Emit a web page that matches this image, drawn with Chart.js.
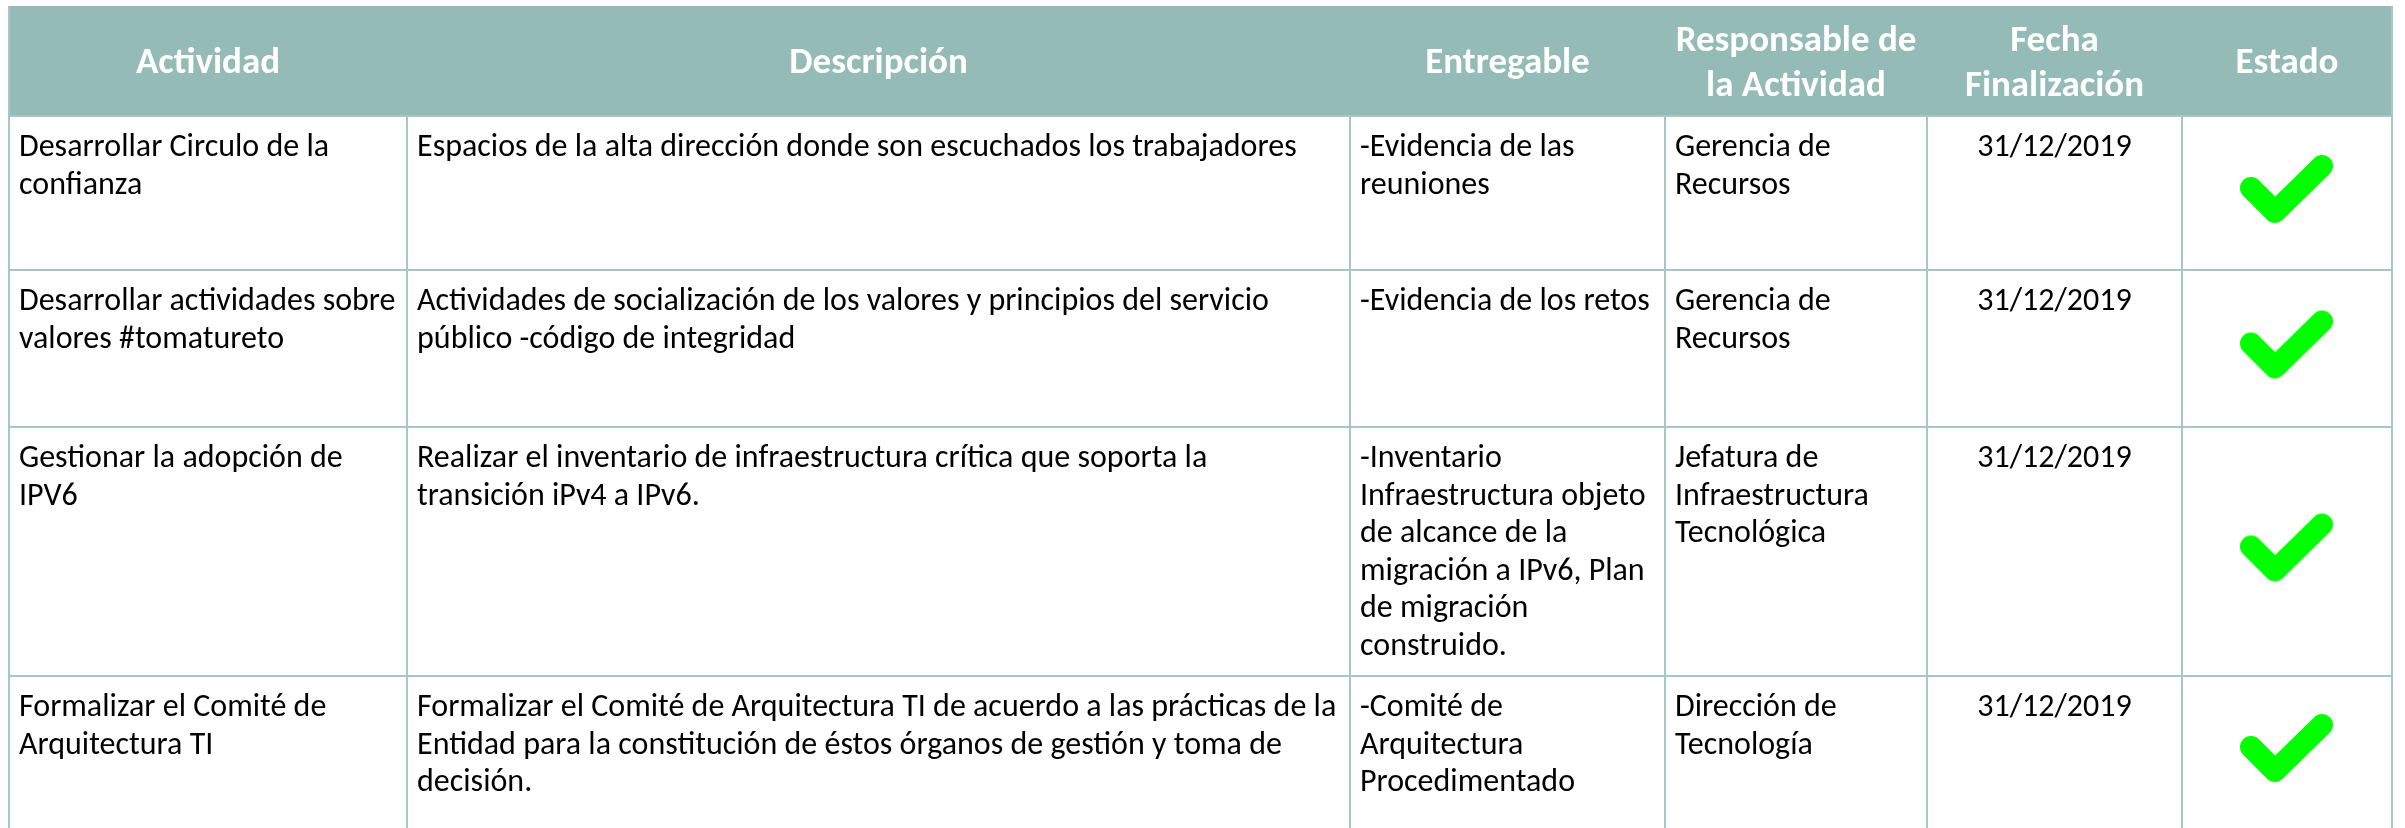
<!DOCTYPE html>
<html>
<head>
<meta charset="utf-8">
<script src="https://cdn.jsdelivr.net/npm/chart.js@4"></script>
<style>
    body { margin: 0; background: #fff; }
    #wrap { width: 2405px; height: 828px; position: relative; }
</style>
</head>
<body>
<div id="wrap"><canvas id="tabla"></canvas></div>
<script>
const encabezados = ['Actividad', 'Descripción', 'Entregable', 'Responsable de\nla Actividad', 'Fecha\nFinalización', 'Estado'];
const actividades = [
    'Desarrollar Circulo de la\nconfianza',
    'Desarrollar actividades sobre\nvalores #tomatureto',
    'Gestionar la adopción de\nIPV6',
    'Formalizar el Comité de\nArquitectura TI'
];
const descripciones = [
    'Espacios de la alta dirección donde son escuchados los trabajadores',
    'Actividades de socialización de los valores y principios del servicio\npúblico -código de integridad',
    'Realizar el inventario de infraestructura crítica que soporta la\ntransición iPv4 a IPv6.',
    'Formalizar el Comité de Arquitectura TI de acuerdo a las prácticas de la\nEntidad para la constitución de éstos órganos de gestión y toma de\ndecisión.'
];
const entregables = [
    '-Evidencia de las\nreuniones',
    '-Evidencia de los retos',
    '-Inventario\nInfraestructura objeto\nde alcance de la\nmigración a IPv6, Plan\nde migración\nconstruido.',
    '-Comité de\nArquitectura\nProcedimentado'
];
const responsables = ['Gerencia de\nRecursos', 'Gerencia de\nRecursos', 'Jefatura de\nInfraestructura\nTecnológica', 'Dirección de\nTecnología'];
const fechas = ['31/12/2019', '31/12/2019', '31/12/2019', '31/12/2019'];
const estados = [true, true, true, true];

// layout of the table (table units = px)
const colEdges = [9, 407, 1350, 1665, 1927, 2182, 2392];
const rowEdges = [6, 116, 270, 427, 676, 828];
const colAlign = ['left', 'left', 'left', 'left', 'center', 'center'];

const headerColor = '#94bbb6';
const lineColor = '#a6c8c3';
const fontFamily = 'Carlito, Calibri, Lato, sans-serif';

function makeCheck() {
    let c = document.createElement('canvas');
    c.width = 110;
    c.height = 90;
    let g = c.getContext('2d');
    g.translate(55, 45);
    g.strokeStyle = '#00ff00';
    g.lineWidth = 22;
    g.lineCap = 'round';
    g.lineJoin = 'round';
    g.beginPath();
    g.moveTo(-36, -2);
    g.lineTo(-12, 22);
    g.lineTo(35, -24);
    g.stroke();
    return c;
}

let columnas = [actividades, descripciones, entregables, responsables, fechas];

let tablePlugin = {
    id: 'tabla',
    beforeDatasetsDraw(chart) {
        let ctx = chart.ctx;
        let x = chart.scales.x;
        let y = chart.scales.y;
        let px = v => x.getPixelForValue(v);
        let py = v => y.getPixelForValue(v);
        let left = px(colEdges[0]);
        let right = px(colEdges[colEdges.length - 1]);

        ctx.save();
        // header
        ctx.fillStyle = headerColor;
        ctx.fillRect(left, py(rowEdges[0]), right - left, py(rowEdges[1]) - py(rowEdges[0]));

        // grid
        ctx.strokeStyle = lineColor;
        ctx.lineWidth = 2;
        ctx.beginPath();
        for (let i = 1; i < rowEdges.length - 1; i++) {
            ctx.moveTo(left, py(rowEdges[i]));
            ctx.lineTo(right, py(rowEdges[i]));
        }
        colEdges.forEach((c, i) => {
            let top = (i === 0 || i === colEdges.length - 1) ? rowEdges[0] : rowEdges[1];
            ctx.moveTo(px(c), py(top));
            ctx.lineTo(px(c), py(rowEdges[rowEdges.length - 1]));
        });
        ctx.stroke();

        // header text
        ctx.fillStyle = '#ffffff';
        ctx.font = 'bold 37px ' + fontFamily;
        ctx.textAlign = 'center';
        ctx.textBaseline = 'alphabetic';
        encabezados.forEach((h, i) => {
            let lines = h.split('\n');
            let cx = (px(colEdges[i]) + px(colEdges[i + 1])) / 2;
            let cy = (py(rowEdges[0]) + py(rowEdges[1])) / 2;
            let lh = 45;
            let base = cy + 12 - (lines.length - 1) * lh / 2;
            lines.forEach((l, k) => ctx.fillText(l, cx, base + k * lh));
        });

        // body text
        ctx.fillStyle = '#000000';
        ctx.font = '32px ' + fontFamily;
        columnas.forEach((col, i) => {
            col.forEach((txt, r) => {
                let top = py(rowEdges[r + 1]);
                let lines = txt.split('\n');
                let tx;
                if (colAlign[i] === 'center') {
                    ctx.textAlign = 'center';
                    tx = (px(colEdges[i]) + px(colEdges[i + 1])) / 2;
                } else {
                    ctx.textAlign = 'left';
                    tx = px(colEdges[i]) + 10;
                }
                lines.forEach((l, k) => ctx.fillText(l, tx, top + 40 + k * 37.5));
            });
        });
        ctx.restore();
    }
};

let checkImg = makeCheck();
let estadoCol = colEdges.length - 2;
let checkPoints = estados.map((ok, r) => ok ? {
    x: (colEdges[estadoCol] + colEdges[estadoCol + 1]) / 2,
    y: (rowEdges[r + 1] + rowEdges[r + 2]) / 2 - 3
} : null).filter(p => p);

let ctx = document.getElementById('tabla').getContext('2d');

let tablaChart = new Chart(ctx, {
    type: 'scatter',
    data: {
        datasets: [{
            label: 'Estado',
            data: checkPoints,
            pointStyle: checkImg,
            pointRadius: 40,
            clip: false
        }]
    },
    options: {
        responsive: true,
        maintainAspectRatio: false,
        animation: false,
        events: [],
        layout: { padding: 0, autoPadding: false },
        scales: {
            x: { type: 'linear', min: 0, max: 2405, display: false },
            y: { type: 'linear', min: 0, max: 828, reverse: true, display: false }
        },
        plugins: {
            legend: { display: false },
            tooltip: { enabled: false }
        }
    },
    plugins: [tablePlugin]
});
</script>
</body>
</html>
